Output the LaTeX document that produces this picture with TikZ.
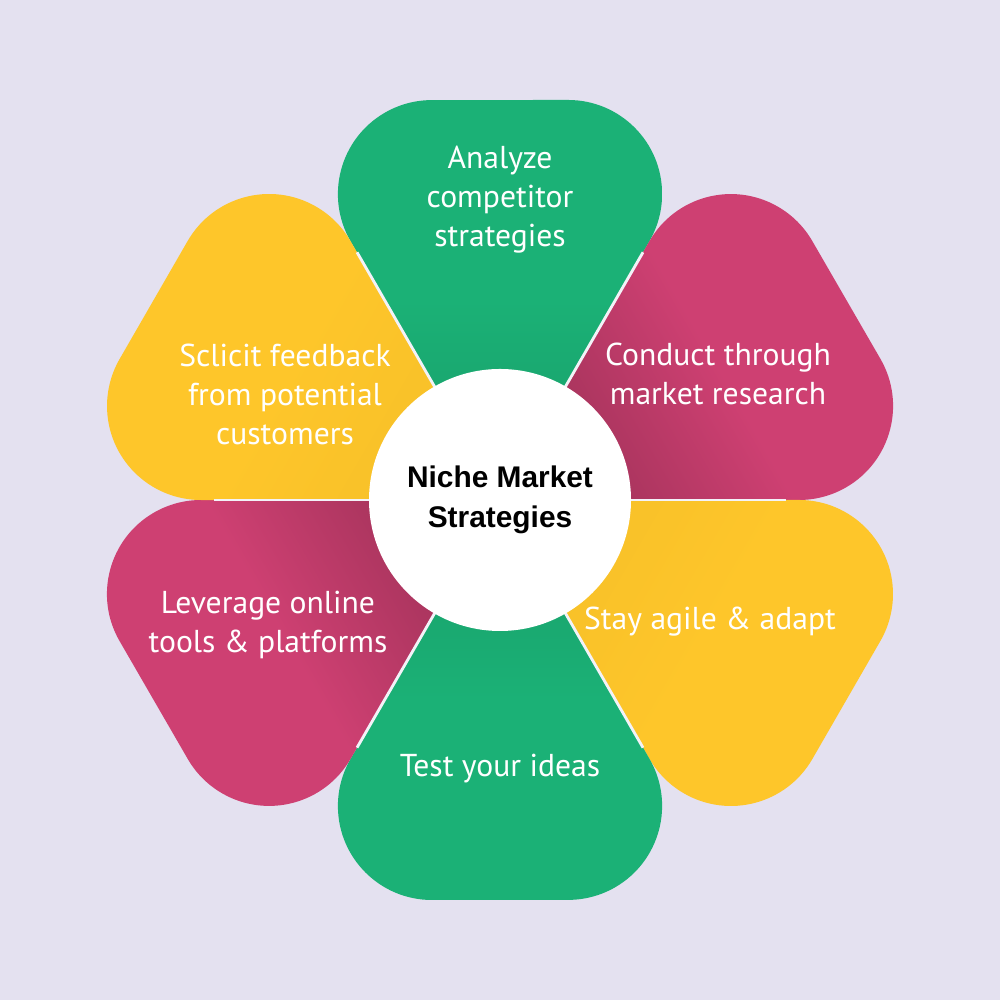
\documentclass[tikz,border=0pt]{standalone}
\usepackage{fontspec}
\setmainfont{PT Sans}
\newfontfamily\headfont{Liberation Sans}
\usepackage{tikz}

\definecolor{bgcol}{HTML}{E4E1F0}
\definecolor{petalgreen}{HTML}{1BB176}
\definecolor{petalpink}{HTML}{CE4072}
\definecolor{petalyellow}{HTML}{FEC62A}

\tikzset{
    petal/.style={draw=none},
    seam/.style={draw=white!55!bgcol, line width=0.8pt},
    lbl/.style={text=white, align=center, font=\fontsize{9}{11.1}\selectfont},
    hub/.style={circle, fill=white, minimum size=2.62cm, align=center, text=black,
        font=\headfont\bfseries\fontsize{8.5}{11.4}\selectfont}
}

% #1 direction, #2 shading angle, #3 colour, #4 how much of it stays near the hub
\newcommand{\petal}[4]{%
    \shade[petal, top color=#3, bottom color=#3!#4!black, middle color=#3, shading angle=#2,
        shift={(5,5)}, rotate=#1]
        (0,0) -- (2.589,1.495) arc[start angle=120, end angle=0, radius=0.94]
        -- (4,-0.681) arc[start angle=0, end angle=-120, radius=0.94] -- cycle;}

\begin{document}
\begin{tikzpicture}
    \fill[bgcol] (0,0) rectangle (10,10);
    \petal{90}{0}{petalgreen}{88}
    \petal{30}{-60}{petalpink}{78}
    \petal{-30}{-120}{petalyellow}{97}
    \petal{-90}{180}{petalgreen}{88}
    \petal{210}{120}{petalpink}{78}
    \petal{150}{60}{petalyellow}{97}

    \coordinate (mid) at (5, 5);
    \foreach \a in {0, 60, ..., 300}
        \draw[seam] (mid) -- ++(\a:2.86);

    \path (mid) node[hub](hub) {Niche Market\\Strategies};

    \path (5, 8.0) node[lbl](analyze) {Analyze\\competitor\\strategies}
        (7.18, 6.26) node[lbl](research) {Conduct through\\market research}
        (7.10, 3.78) node[lbl](agile) {Stay agile \& adapt}
        (5, 2.31) node[lbl](test) {Test your ideas}
        (2.68, 3.75) node[lbl](online) {Leverage online\\tools \& platforms}
        (2.85, 6.06) node[lbl](feedback) {Sclicit feedback\\from potential\\customers};
\end{tikzpicture}
\end{document}
